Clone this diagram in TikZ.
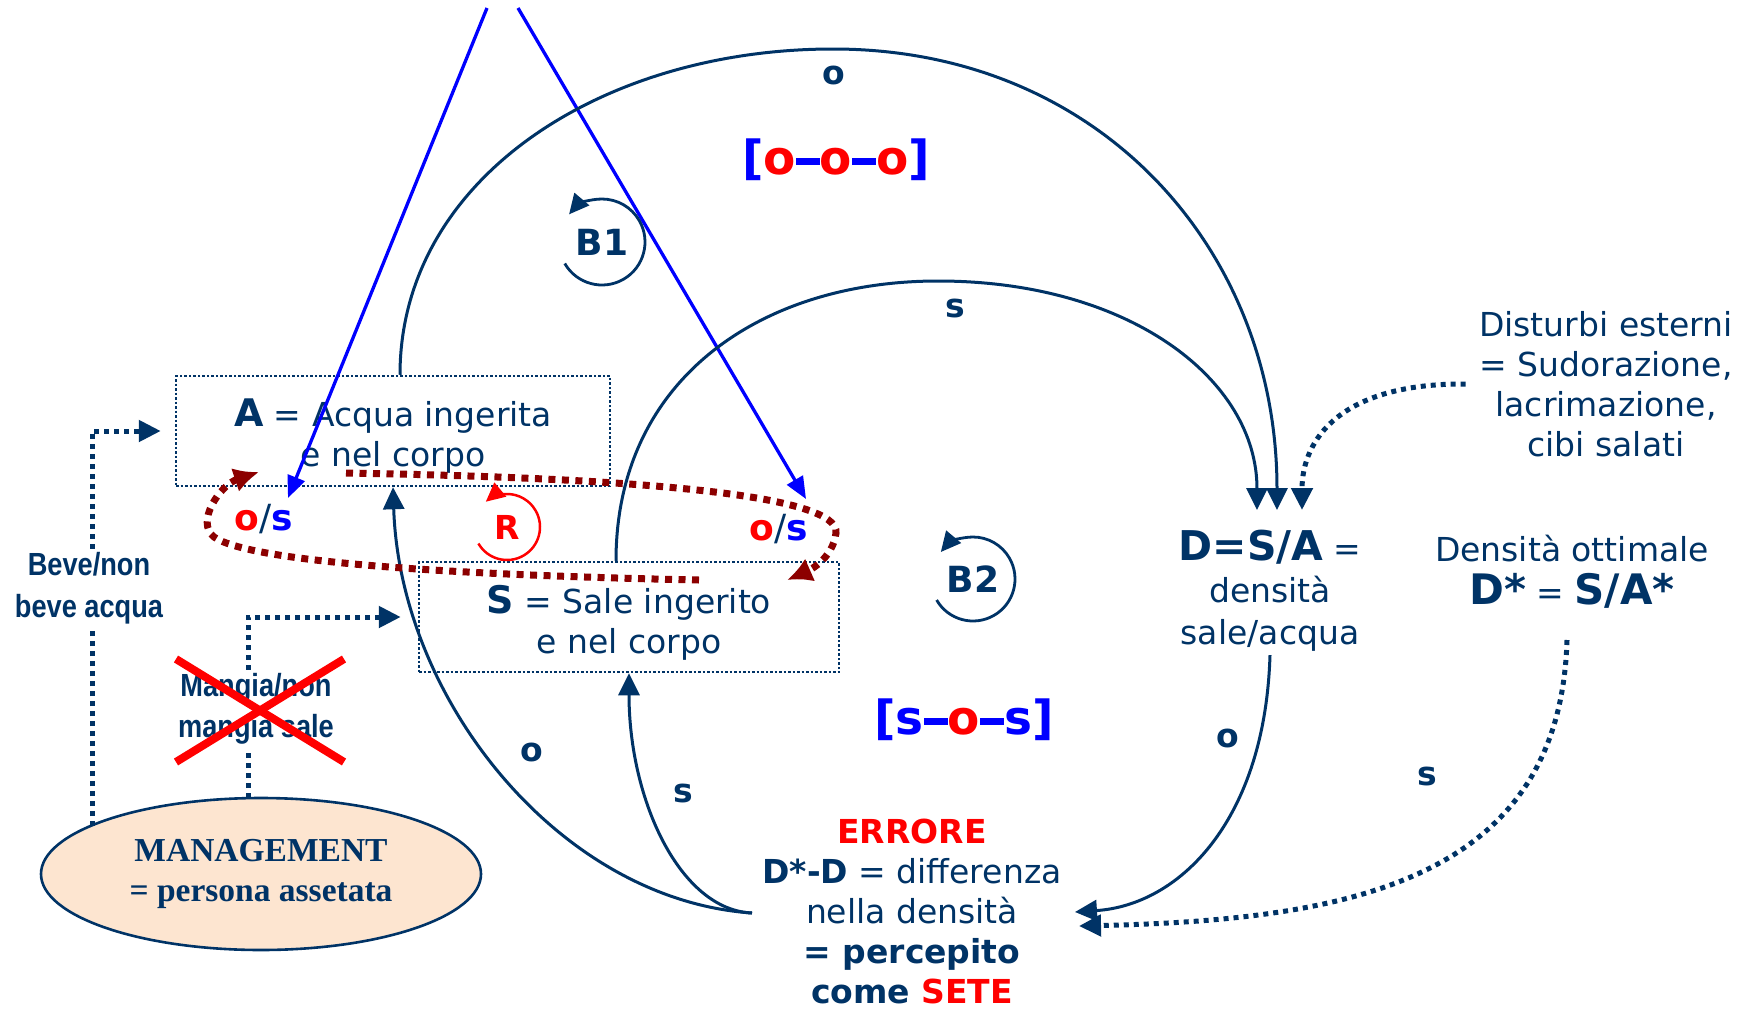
\documentclass[tikz,border=0pt]{standalone}
\usepackage{fontspec}
\setmainfont{DejaVu Sans}
\newfontfamily\serifbold{Liberation Serif}
\newfontfamily\narrowsans[FakeStretch=0.85]{Liberation Sans}
\usetikzlibrary{arrows.meta,shapes.geometric}
\definecolor{navy}{RGB}{0,51,102}
\definecolor{dred}{RGB}{140,0,0}
\definecolor{peach}{RGB}{253,229,208}
\newcommand{\codebar}{\rule[10pt]{24pt}{6.5pt}}
\begin{document}
\begin{tikzpicture}[x=1pt,y=-1pt,
  every node/.style={text=navy,font=\fontsize{33}{40}\selectfont},
  box/.style={draw=navy,dash pattern=on 2.5pt off 2pt,line width=2.5pt,align=center,inner sep=0pt,minimum height=110pt},
  conn/.style={draw=navy,line width=3pt,-{Triangle[length=22pt,width=21pt]}},
  dconn/.style={draw=navy,line width=5pt,dash pattern=on 5pt off 5pt,-{Triangle[length=22pt,width=21pt]}},
  dline/.style={draw=navy,line width=5pt,dash pattern=on 5pt off 5pt},
  blueconn/.style={draw=blue,line width=3.3pt,-{Triangle[length=22pt,width=18pt]}},
  rloop/.style={draw=dred,line width=7pt,dash pattern=on 7pt off 6.5pt,-{Latex[length=25pt,width=25pt]}},
  lbl/.style={font=\bfseries\fontsize{33}{40}\selectfont},
  oslbl/.style={font=\bfseries\fontsize{36}{40}\selectfont},
  loopname/.style={font=\bfseries\fontsize{36}{40}\selectfont},
  code/.style={font=\bfseries\fontsize{47}{50}\selectfont},
  looparr/.style={draw=navy,line width=2.8pt,-{Triangle[length=20pt,width=19pt]}},
  cross/.style={draw=red,line width=8pt}
]
\path[fill=white,use as bounding box] (0,0) rectangle (1751,1009);

% main nodes
\node[box,minimum width=434pt] (A) at (393,431) {\rule{0pt}{37pt}{\bfseries\fontsize{38}{40}\selectfont A} = Acqua ingerita\\e nel corpo};
\node[box,minimum width=420pt] (S) at (629,617) {\rule{0pt}{39pt}{\bfseries\fontsize{38}{40}\selectfont S} = Sale ingerito\\e nel corpo};
\node[align=center,font=\fontsize{33}{42}\selectfont] (D) at (1270,591) {{\bfseries\fontsize{41}{42}\selectfont D=S/A} =\\densità\\sale/acqua};
\node[align=center,font=\fontsize{33}{43}\selectfont] (Opt) at (1572,572) {Densità ottimale\\{\bfseries\fontsize{42}{43}\selectfont D*} = {\bfseries\fontsize{42}{43}\selectfont S/A*}};
\node[align=center] (Dist) at (1606,384) {Disturbi esterni\\= Sudorazione,\\lacrimazione,\\cibi salati};
\node[align=center] (Err) at (912,911) {{\bfseries\color{red}ERRORE}\\{\bfseries D*-D} = differenza\\nella densità\\{\bfseries = percepito}\\{\bfseries come {\color{red}SETE}}};
\node[ellipse,draw=navy,fill=peach,line width=2.6pt,minimum width=440pt,minimum height=152pt,inner sep=0pt,align=center,font=\serifbold\bfseries\fontsize{33.5}{40}\selectfont] (M) at (261,874) {MANAGEMENT\\= persona assetata};
\node[align=center,font=\narrowsans\bfseries\fontsize{32}{42}\selectfont] (Beve) at (89,588) {Beve/non\\beve acqua};
\node[align=center,font=\narrowsans\bfseries\fontsize{32}{41}\selectfont] (Mangia) at (256,709) {Mangia/non\\mangia sale};

% labels
\node[lbl] (oTop) at (834,75) {o};
\node[lbl] (sMid) at (955,308) {s};
\node[lbl] (oErrA) at (532,752) {o};
\node[lbl] (sErrS) at (683,793) {s};
\node[lbl] (oDErr) at (1228,738) {o};
\node[lbl] (sOptErr) at (1427,776) {s};
\node[oslbl] (osL) at (264,519) {{\color{red}o}\textmd{/}{\color{blue}s}};
\node[oslbl] (osR) at (779,529) {{\color{red}o}\textmd{/}{\color{blue}s}};
\node[lbl,text=red] (R) at (507,527) {R};
\node[loopname] (B1) at (602,242) {B1};
\node[loopname] (B2) at (973,579) {B2};
\node[code] (ooo) at (836,160) {{\color{blue}[}{\color{red}o}{\color{blue}\codebar}{\color{red}o}{\color{blue}\codebar}{\color{red}o}{\color{blue}]}};
\node[code] (sos) at (964,720) {{\color{blue}[s\codebar}{\color{red}o}{\color{blue}\codebar s]}};

% cross over Mangia
\draw[cross] ([shift={(-80,-50)}]Mangia.center) -- ([shift={(88,53)}]Mangia.center);
\draw[cross] ([shift={(-80,53)}]Mangia.center) -- ([shift={(88,-50)}]Mangia.center);

% coordinates
\coordinate (tA) at (487,8);
\coordinate (tS) at (518,8);
\coordinate (hL) at (288,498);
\coordinate (hR) at (806,499);
\coordinate (d1) at (1257,510);
\coordinate (d2) at (1277,510);
\coordinate (d3) at (1302,510);
\coordinate (e1) at (1075,912);
\coordinate (e2) at (1079,926);
\coordinate (eL) at (752,913);
\coordinate (oB) at (1567,640);
\coordinate (mB) at (92,826);
\coordinate (mM) at (248,798);
\coordinate (r1) at (346,473);
\coordinate (r2) at (787,580);
\coordinate (r3) at (699,580);
\coordinate (r4) at (259,472);

% blue links
\draw[blueconn] (tA) -- (hL);
\draw[blueconn] (tS) -- (hR);

% arcs to D
\draw[conn] ([xshift=7pt]A.north) .. controls (400,180) and (600,49) .. (833,49) .. controls (1100,49) and (1277,250) .. (d2);
\draw[conn] ([xshift=-13pt]S.north) .. controls (616,380) and (760,281) .. (938,281) .. controls (1130,281) and (1257,380) .. (d1);
\draw[dconn] ([xshift=-10pt]Dist.west) .. controls (1340,383) and (1302,440) .. (d3);

% to error
\draw[conn] (D.south) .. controls (1265,820) and (1180,905) .. (e1);
\draw[dconn] (oB) .. controls (1560,880) and (1350,920) .. (e2);

% from error
\draw[conn] (eL) .. controls (560,900) and (400,700) .. (A.south);
\draw[conn] (eL) .. controls (680,910) and (629,800) .. (S.south);

% management
\draw[dline] (mB) -- (mB |- Beve.south);
\draw[dconn] (mB |- Beve.north) |- ([xshift=-14pt]A.west);
\draw[dline] (mM) -- (mM |- Mangia.south);
\draw[dconn] (mM |- Mangia.north) |- ([xshift=-17pt]S.west);

% loops
\draw[looparr] ([shift={(150:43)}]B1.center) arc[start angle=150,end angle=-140,radius=43];
\draw[looparr] ([shift={(150:42)}]B2.center) arc[start angle=150,end angle=-140,radius=42];
\draw[red,line width=2.5pt,-{Triangle[length=19pt,width=18pt]}] ([shift={(150:33)}]R.center) arc[start angle=150,end angle=-130,radius=33];

% reinforcing dotted loop
\draw[rloop] (r1) .. controls (640,478) and (840,495) .. (836,533) .. controls (833,558) and (810,570) .. (r2);
\draw[rloop] (r3) .. controls (450,575) and (250,562) .. (214,537) .. controls (195,522) and (220,485) .. (r4);
\end{tikzpicture}
\end{document}
